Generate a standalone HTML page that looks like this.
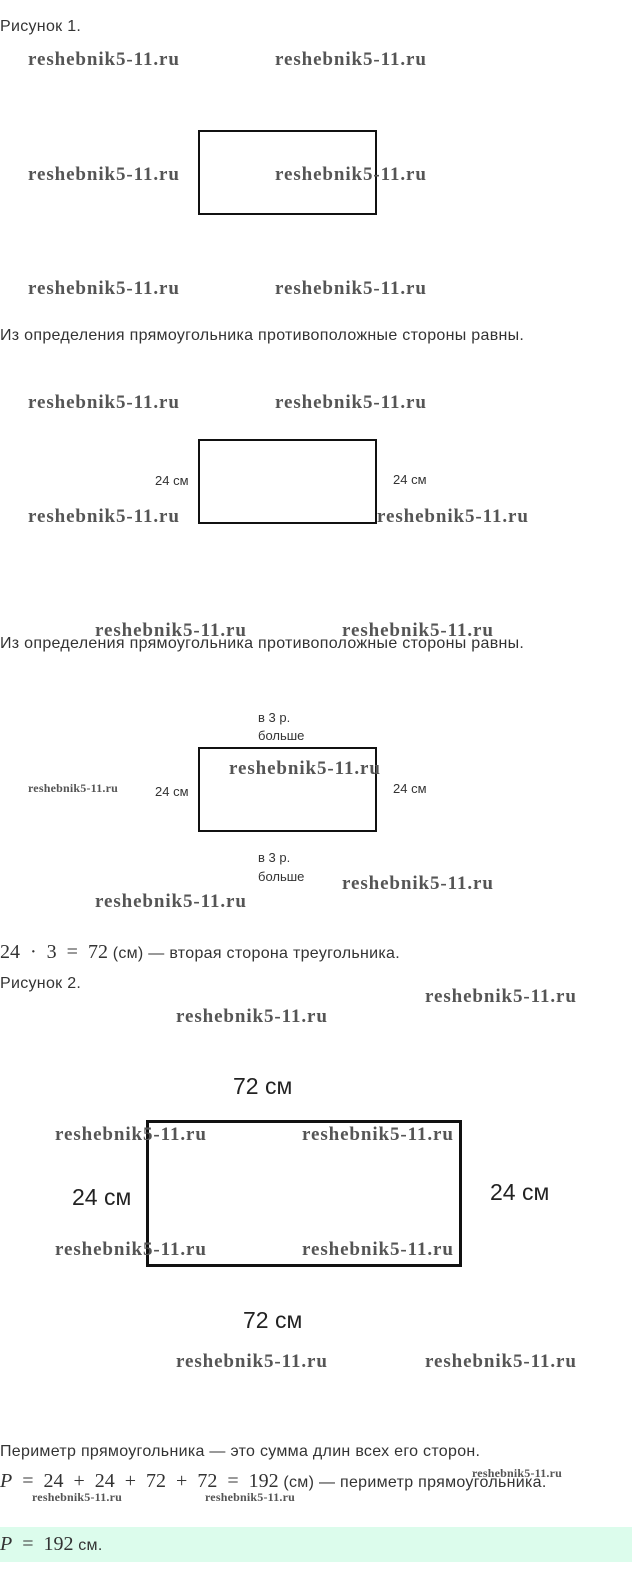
<!DOCTYPE html>
<html><head><meta charset="utf-8"><style>
body{margin:0;width:632px;height:1594px;position:relative;background:#fff;overflow:hidden;font-family:"Liberation Sans","DejaVu Sans",sans-serif;color:#222}
div{position:absolute;white-space:nowrap}
.w{font-family:"Liberation Serif",serif;font-weight:bold;font-size:19px;color:#555;line-height:20px;letter-spacing:0.9px}
.ws{font-family:"Liberation Serif",serif;font-weight:bold;font-size:12px;color:#555;line-height:13px;letter-spacing:0.2px}
.p{font-size:16px;line-height:18px;color:#333;letter-spacing:0.3px}
.s{font-size:13px;line-height:16px;color:#333}
.b{font-size:23px;line-height:24px;color:#222}
.r{border:2px solid #111;box-sizing:border-box}
.m{font-family:"Liberation Serif",serif;font-size:20px;letter-spacing:0}
</style></head><body>
<div class="p" style="left:0;top:18px">Рисунок 1.</div>
<div class="w" style="left:28px;top:50px">reshebnik5-11.ru</div>
<div class="w" style="left:275px;top:50px">reshebnik5-11.ru</div>
<div class="r" style="left:198px;top:130px;width:179px;height:85px"></div>
<div class="w" style="left:28px;top:165px">reshebnik5-11.ru</div>
<div class="w" style="left:275px;top:165px">reshebnik5-11.ru</div>
<div class="w" style="left:28px;top:279px">reshebnik5-11.ru</div>
<div class="w" style="left:275px;top:279px">reshebnik5-11.ru</div>
<div class="p" style="left:0;top:327px">Из определения прямоугольника противоположные стороны равны.</div>
<div class="w" style="left:28px;top:393px">reshebnik5-11.ru</div>
<div class="w" style="left:275px;top:393px">reshebnik5-11.ru</div>
<div class="r" style="left:198px;top:439px;width:179px;height:85px"></div>
<div class="s" style="left:155px;top:473px">24 см</div>
<div class="s" style="left:393px;top:472px">24 см</div>
<div class="w" style="left:28px;top:507px">reshebnik5-11.ru</div>
<div class="w" style="left:377px;top:507px">reshebnik5-11.ru</div>
<div class="w" style="left:95px;top:621px">reshebnik5-11.ru</div>
<div class="w" style="left:342px;top:621px">reshebnik5-11.ru</div>
<div class="p" style="left:0;top:635px">Из определения прямоугольника противоположные стороны равны.</div>
<div class="s" style="left:258px;top:710px">в 3 р.</div>
<div class="s" style="left:258px;top:728px">больше</div>
<div class="r" style="left:198px;top:747px;width:179px;height:85px"></div>
<div class="w" style="left:229px;top:759px">reshebnik5-11.ru</div>
<div class="ws" style="left:28px;top:782px">reshebnik5-11.ru</div>
<div class="s" style="left:155px;top:784px">24 см</div>
<div class="s" style="left:393px;top:781px">24 см</div>
<div class="s" style="left:258px;top:850px">в 3 р.</div>
<div class="s" style="left:258px;top:869px">больше</div>
<div class="w" style="left:342px;top:874px">reshebnik5-11.ru</div>
<div class="w" style="left:95px;top:892px">reshebnik5-11.ru</div>
<div class="p" style="left:0;top:943px"><span class="m">24 &nbsp;· &nbsp;3 &nbsp;= &nbsp;72</span> (см) — вторая сторона треугольника.</div>
<div class="p" style="left:0;top:975px">Рисунок 2.</div>
<div class="w" style="left:425px;top:987px">reshebnik5-11.ru</div>
<div class="w" style="left:176px;top:1007px">reshebnik5-11.ru</div>
<div class="b" style="left:233px;top:1074px">72 см</div>
<div style="left:146px;top:1120px;width:316px;height:147px;border:3px solid #111;box-sizing:border-box"></div>
<div class="w" style="left:55px;top:1125px">reshebnik5-11.ru</div>
<div class="w" style="left:302px;top:1125px">reshebnik5-11.ru</div>
<div class="b" style="left:72px;top:1185px">24 см</div>
<div class="b" style="left:490px;top:1180px">24 см</div>
<div class="w" style="left:55px;top:1240px">reshebnik5-11.ru</div>
<div class="w" style="left:302px;top:1240px">reshebnik5-11.ru</div>
<div class="b" style="left:243px;top:1308px">72 см</div>
<div class="w" style="left:176px;top:1352px">reshebnik5-11.ru</div>
<div class="w" style="left:425px;top:1352px">reshebnik5-11.ru</div>
<div class="p" style="left:0;top:1443px">Периметр прямоугольника — это сумма длин всех его сторон.</div>
<div class="ws" style="left:472px;top:1467px">reshebnik5-11.ru</div>
<div class="p" style="left:0;top:1472px"><span class="m"><i>P</i> &nbsp;= &nbsp;24 &nbsp;+ &nbsp;24 &nbsp;+ &nbsp;72 &nbsp;+ &nbsp;72 &nbsp;= &nbsp;192</span> (см) — периметр прямоугольника.</div>
<div class="ws" style="left:32px;top:1491px">reshebnik5-11.ru</div>
<div class="ws" style="left:205px;top:1491px">reshebnik5-11.ru</div>
<div style="left:0;top:1527px;width:632px;height:35px;background:#dcfcec"></div>
<div class="p" style="left:0;top:1535px"><span class="m"><i>P</i> &nbsp;= &nbsp;192</span> см.</div>
</body></html>
